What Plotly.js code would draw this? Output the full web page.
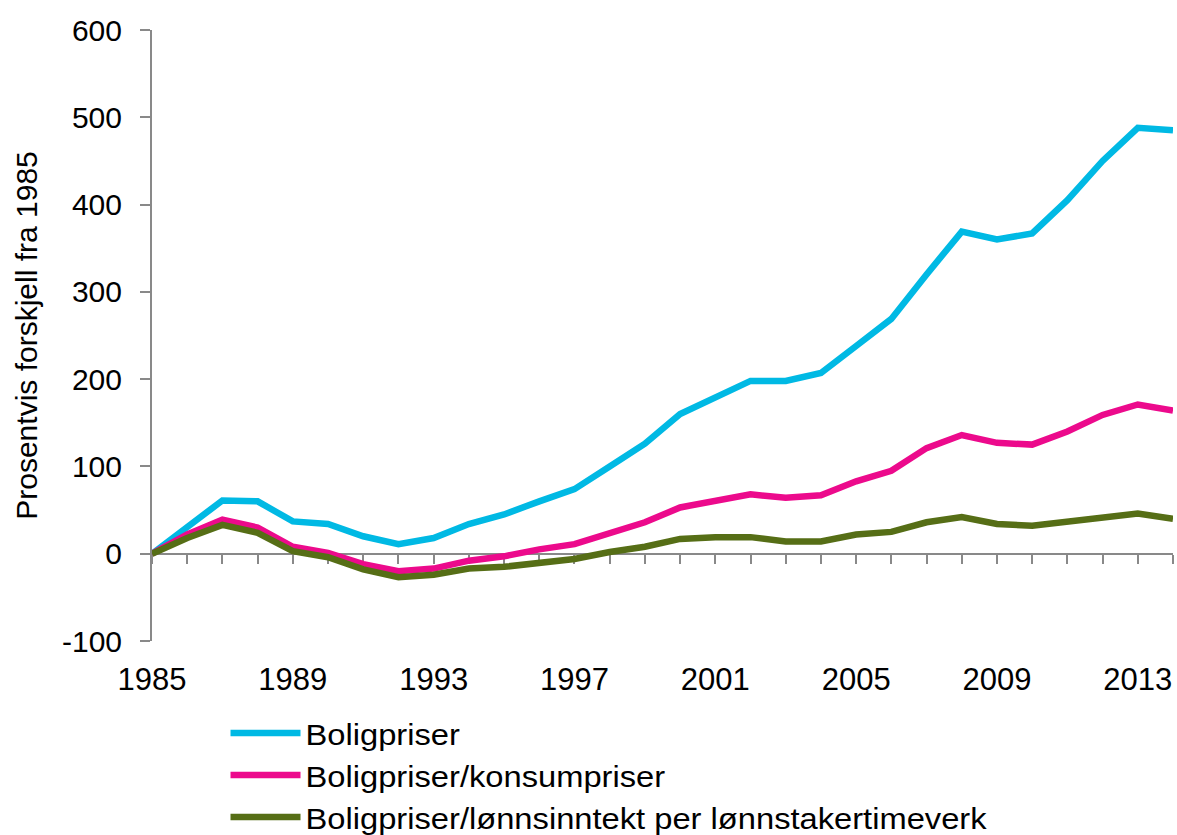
<!DOCTYPE html>
<html>
<head>
<meta charset="utf-8">
<script src="https://cdn.plot.ly/plotly-3.0.1.min.js"></script>
<style>
html,body{margin:0;padding:0;background:#fff;}
#chart{width:1177px;height:835px;}
#chart .legendtext{transform:scaleX(1.09);transform-box:fill-box;transform-origin:left center;}
#chart .legend .scrollbox{clip-path:none !important;}
</style>
</head>
<body>
<div id="chart"></div>
<script>
const years = [1985,1986,1987,1988,1989,1990,1991,1992,1993,1994,1995,1996,1997,1998,1999,
               2000,2001,2002,2003,2004,2005,2006,2007,2008,2009,2010,2011,2012,2013,2014];
const boligpriser = [0,31,61,60,37,34,20,11,18,34,45,60,74,100,126,
                     160,180,198,198,207,238,269,320,369,360,367,405,450,488,485];
const boligKonsum = [0,22,39,30,8,1,-12,-20,-17,-8,-3,5,11,24,36,
                     53,60,68,64,67,83,95,121,136,127,125,140,159,171,164];
const boligLonn = [0,18,33,24,3,-4,-18,-27,-24,-17,-15,-11,-6,2,8,
                   17,19,19,14,14,22,25,36,42,34,32,37,42,46,40];
const seriesNames = ['Boligpriser','Boligpriser/konsumpriser','Boligpriser/lønnsinntekt per lønnstakertimeverk'];
const seriesColors = ['#00B9E4','#EC0A8C','#566E16'];
const yTickVals = [-100,0,100,200,300,400,500,600];
const yTickText = ['-100','0','100','200','300','400','500','600'];
const yTitle = 'Prosentvis forskjell fra 1985';

const font = '"Liberation Sans", Arial, sans-serif';
const axisGray = '#898989';
const allSeries = [boligpriser, boligKonsum, boligLonn];

const traces = allSeries.map((vals, i) => ({
  x: years, y: vals, type: 'scatter', mode: 'lines', name: seriesNames[i],
  line: {color: seriesColors[i], width: 6.5, shape: 'linear'},
  hoverinfo: 'x+y+name'
}));

const layout = {
  width: 1177, height: 835,
  margin: {l: 152, r: 4, t: 30, b: 194, pad: 0, autoexpand: false},
  paper_bgcolor: '#ffffff', plot_bgcolor: '#ffffff',
  font: {family: font, color: '#000000', size: 28},
  showlegend: true,
  legend: {
    orientation: 'v', x: 0.072, xanchor: 'left', y: -0.108, yanchor: 'top',
    font: {family: font, size: 30, color: '#000'},
    itemwidth: 70, tracegroupgap: 0, bgcolor: 'rgba(0,0,0,0)'
  },
  xaxis: {
    range: [1985, 2014], anchor: 'free', position: 1/7, automargin: false,
    showline: true, linecolor: axisGray, linewidth: 2,
    showgrid: false, zeroline: false,
    tickmode: 'linear', tick0: 1985, dtick: 4,
    ticks: 'outside', ticklen: 9, tickwidth: 2, tickcolor: axisGray,
    ticklabelstandoff: 89,
    tickfont: {family: font, size: 31, color: '#000'},
    minor: {dtick: 1, tick0: 1985, ticks: 'outside', ticklen: 9, tickwidth: 2, tickcolor: axisGray, showgrid: false},
    layer: 'below traces', fixedrange: true
  },
  yaxis: {
    range: [-100, 600], automargin: false,
    tickmode: 'array', tickvals: yTickVals, ticktext: yTickText,
    showline: true, linecolor: axisGray, linewidth: 2,
    showgrid: false, zeroline: false,
    ticks: 'outside', ticklen: 10, tickwidth: 2, tickcolor: axisGray,
    ticklabelstandoff: 12,
    tickfont: {family: font, size: 30, color: '#000'},
    title: {text: yTitle, font: {family: font, size: 30, color: '#000'}, standoff: 15},
    layer: 'below traces', fixedrange: true
  }
};

Plotly.newPlot('chart', traces, layout, {displayModeBar: false, staticPlot: true});
</script>
</body>
</html>
